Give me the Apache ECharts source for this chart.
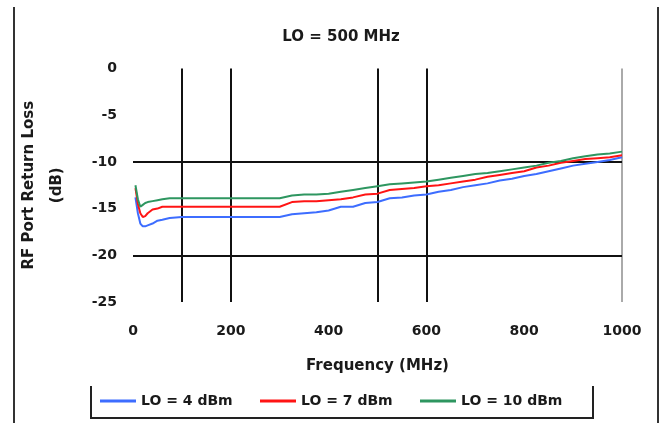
<!DOCTYPE html>
<html>
<head>
<meta charset="utf-8">
<script src="https://cdn.jsdelivr.net/npm/echarts@6/dist/echarts.min.js"></script>
<style>html,body{margin:0;padding:0;background:#fff}#c{width:663px;height:423px}</style>
</head>
<body>
<div id="c"></div>
<script>
const titleText = 'LO = 500 MHz';
const seriesNames = ['LO = 4 dBm', 'LO = 7 dBm', 'LO = 10 dBm'];
const freqs = [5, 10, 15, 20, 25, 30, 40, 50, 60, 75, 100, 125, 150, 175, 200, 225, 250, 275, 300, 325, 350, 375, 400, 425, 450, 475, 500, 525, 550, 575, 600, 625, 650, 675, 700, 725, 750, 775, 800, 825, 850, 875, 900, 925, 950, 975, 1000];
const loss4 = [-13.8, -15.5, -16.6, -16.9, -16.9, -16.8, -16.6, -16.3, -16.2, -16.0, -15.9, -15.9, -15.9, -15.9, -15.9, -15.9, -15.9, -15.9, -15.9, -15.6, -15.5, -15.4, -15.2, -14.8, -14.8, -14.4, -14.3, -13.9, -13.8, -13.6, -13.5, -13.2, -13.0, -12.7, -12.5, -12.3, -12.0, -11.8, -11.5, -11.3, -11.0, -10.7, -10.4, -10.2, -10.0, -9.8, -9.5];
const loss7 = [-12.8, -14.5, -15.5, -15.9, -15.8, -15.5, -15.1, -15.0, -14.8, -14.8, -14.8, -14.8, -14.8, -14.8, -14.8, -14.8, -14.8, -14.8, -14.8, -14.3, -14.2, -14.2, -14.1, -14.0, -13.8, -13.5, -13.4, -13.0, -12.9, -12.8, -12.6, -12.5, -12.3, -12.1, -11.9, -11.6, -11.4, -11.2, -11.0, -10.6, -10.4, -10.1, -9.9, -9.7, -9.6, -9.5, -9.3];
const loss10 = [-12.5, -14.0, -14.8, -14.6, -14.4, -14.3, -14.2, -14.1, -14.0, -13.9, -13.9, -13.9, -13.9, -13.9, -13.9, -13.9, -13.9, -13.9, -13.9, -13.6, -13.5, -13.5, -13.4, -13.2, -13.0, -12.8, -12.6, -12.4, -12.3, -12.2, -12.1, -11.9, -11.7, -11.5, -11.3, -11.2, -11.0, -10.8, -10.6, -10.4, -10.1, -9.9, -9.6, -9.4, -9.2, -9.1, -8.9];
const xTicks = [0, 200, 400, 600, 800, 1000];
const yTicks = [0, -5, -10, -15, -20, -25];
const vLinesDark = [100, 200, 500, 600];
const vLinesLight = [1000];
const hLines = [-10, -20];

const colors = ['#3d6dff', '#ff1414', '#2e9660'];
const lossSets = [loss4, loss7, loss10];
const font = 'DejaVu Sans';

const chart = echarts.init(document.getElementById('c'), null, {renderer: 'canvas'});

const series = lossSets.map((vals, i) => ({
  name: seriesNames[i],
  type: 'line',
  data: freqs.map((f, k) => [f, vals[k]]),
  showSymbol: false,
  symbol: 'none',
  lineStyle: {color: colors[i], width: 2},
  itemStyle: {color: colors[i]},
  z: 5,
  animation: false
}));

series.push({
  name: 'grid',
  type: 'line',
  data: [],
  z: 2,
  silent: true,
  animation: false,
  markLine: {
    silent: true,
    symbol: 'none',
    label: {show: false},
    animation: false,
    data: [
      ...vLinesDark.map(v => ({xAxis: v, lineStyle: {color: '#111', width: 2, type: 'solid'}})),
      ...vLinesLight.map(v => ({xAxis: v, lineStyle: {color: '#aaa', width: 2, type: 'solid'}})),
      ...hLines.map(v => ({yAxis: v, lineStyle: {color: '#111', width: 2, type: 'solid'}}))
    ]
  }
});

const labelStyle = {fontFamily: font, fontWeight: 'bold', fontSize: 14, color: '#1a1a1a'};

chart.setOption({
  animation: false,
  backgroundColor: '#fff',
  title: {
    text: titleText,
    left: 336, top: 25, textAlign: 'center',
    textStyle: {fontFamily: font, fontWeight: 'bold', fontSize: 15, color: '#1a1a1a'}
  },
  legend: [0, 1, 2].map(i => ({
    data: [seriesNames[i]],
    left: [100, 260, 420][i],
    top: 394,
    padding: 0,
    icon: 'rect',
    itemWidth: 36,
    itemHeight: 3,
    itemGap: 5,
    textStyle: labelStyle,
    selectedMode: false
  })),
  grid: {left: 133, right: 41, top: 68.5, bottom: 121, containLabel: false},
  xAxis: {
    type: 'value', min: 0, max: 1000, interval: 200,
    axisLine: {show: false}, axisTick: {show: false}, splitLine: {show: false},
    axisLabel: Object.assign({margin: 22, customValues: xTicks, formatter: v => String(v)}, labelStyle),
    name: 'Frequency (MHz)', nameLocation: 'middle', nameGap: 57,
    nameTextStyle: {fontFamily: font, fontWeight: 'bold', fontSize: 15, color: '#1a1a1a'}
  },
  yAxis: {
    type: 'value', min: -25, max: 0, interval: 5,
    axisLine: {show: false},
    axisTick: {show: false},
    splitLine: {show: false},
    axisLabel: Object.assign({margin: 16, customValues: yTicks, formatter: v => String(v)}, labelStyle),
    name: 'RF Port Return Loss\n(dB)', nameLocation: 'middle', nameGap: 62, nameRotate: 90,
    nameTextStyle: {fontFamily: font, fontWeight: 'bold', fontSize: 15, color: '#1a1a1a', lineHeight: 28, align: 'center'}
  },
  graphic: [
    {type: 'line', shape: {x1: 14, y1: 7, x2: 14, y2: 423}, style: {stroke: '#333', lineWidth: 2}},
    {type: 'line', shape: {x1: 658, y1: 7, x2: 658, y2: 423}, style: {stroke: '#333', lineWidth: 2}},
    {type: 'polyline', shape: {points: [[91, 386], [91, 418], [593, 418], [593, 386]]}, style: {stroke: '#222', lineWidth: 2, fill: null}}
  ],
  series: series
});
</script>
</body>
</html>
